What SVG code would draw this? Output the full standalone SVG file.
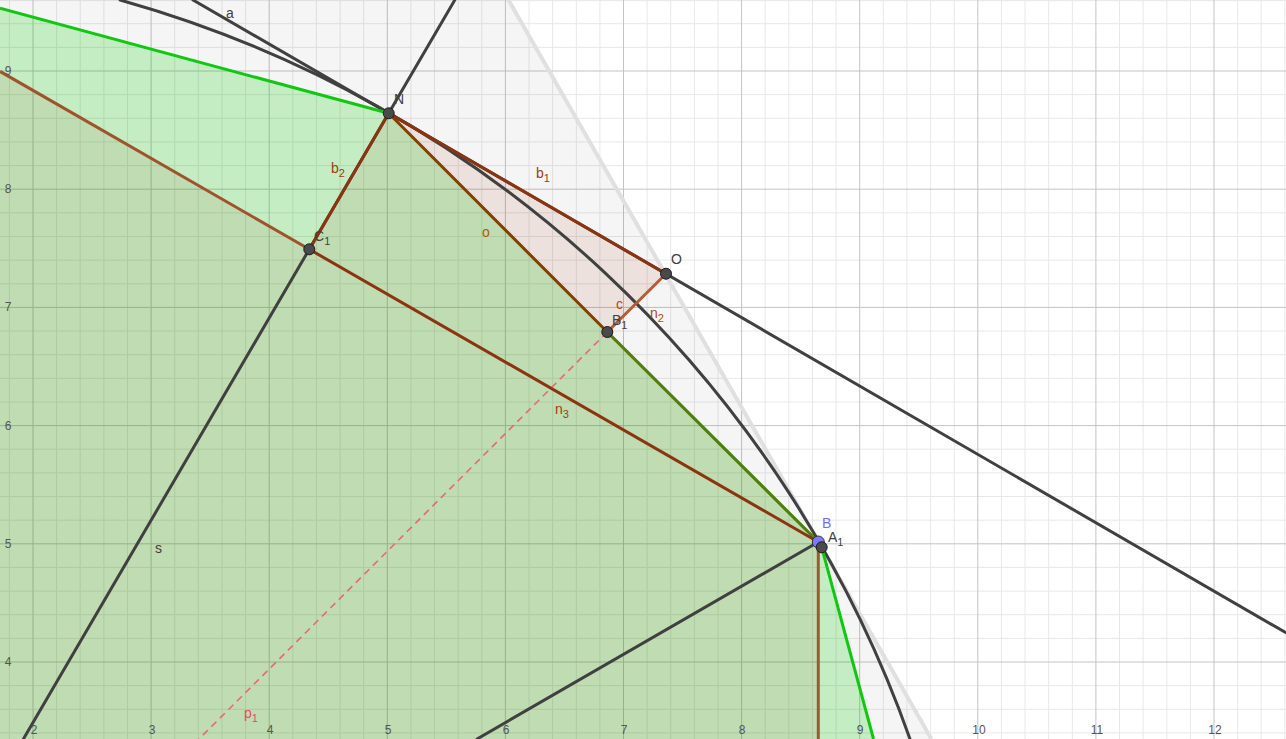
<svg xmlns="http://www.w3.org/2000/svg" width="1286" height="739" viewBox="0 0 1286 739">
<style>
.minor{stroke:#e8e8e8;stroke-width:1;fill:none}
.major{stroke:#c4c4c4;stroke-width:1;fill:none}
.ax{font-family:"Liberation Sans",Arial,sans-serif;font-size:12px;fill:#555555;text-anchor:middle}
.lbl{font-family:"Liberation Sans",Arial,sans-serif;font-size:14px}
.sub{font-size:11px}
.dark{stroke:#404040;stroke-width:3;fill:none;stroke-linecap:round}
.green{stroke:#10c810;stroke-width:3;fill:none}
.brown{stroke:#8c3410;stroke-width:3;fill:none}
.pt{fill:#4a4a4a;stroke:#1a1a1a;stroke-width:1}
</style>
<rect width="1286" height="739" fill="#ffffff"/>
<g id="grid">
<path class="minor" d="M9.4 0V739M56.6 0V739M80.2 0V739M103.9 0V739M127.5 0V739M174.7 0V739M198.3 0V739M222 0V739M245.6 0V739M292.8 0V739M316.4 0V739M340.1 0V739M363.7 0V739M410.9 0V739M434.5 0V739M458.2 0V739M481.8 0V739M529 0V739M552.6 0V739M576.3 0V739M599.9 0V739M647.1 0V739M670.7 0V739M694.4 0V739M718 0V739M765.2 0V739M788.8 0V739M812.5 0V739M836.1 0V739M883.3 0V739M906.9 0V739M930.6 0V739M954.2 0V739M1001.4 0V739M1025 0V739M1048.7 0V739M1072.3 0V739M1119.5 0V739M1143.1 0V739M1166.8 0V739M1190.4 0V739M1237.6 0V739M1261.2 0V739M1284.9 0V739
M0 0.6H1286M0 23.7H1286M0 47.4H1286M0 94.6H1286M0 118.3H1286M0 141.9H1286M0 165.6H1286M0 212.8H1286M0 236.5H1286M0 260.1H1286M0 283.8H1286M0 331H1286M0 354.7H1286M0 378.3H1286M0 402H1286M0 449.2H1286M0 472.9H1286M0 496.5H1286M0 520.2H1286M0 567.4H1286M0 591.1H1286M0 614.7H1286M0 638.4H1286M0 685.6H1286M0 709.3H1286M0 732.9H1286"/>
<path class="major" d="M33 0V739M151.1 0V739M269.2 0V739M387.3 0V739M505.4 0V739M623.5 0V739M741.6 0V739M859.7 0V739M977.8 0V739M1095.9 0V739M1214 0V739M0 71H1286M0 189.2H1286M0 307.4H1286M0 425.6H1286M0 543.8H1286M0 662H1286"/>
</g>
<g id="regions">
<polygon points="0,0 508.5,0 931.4,739 0,739" fill="#000000" fill-opacity="0.04"/>
<polygon points="0,8.3 388.7,113.3 821.7,547.3 873.5,739 0,739" fill="#00cc00" fill-opacity="0.2"/>
<polygon points="0,71.4 309.3,249.3 388.7,113.3 607.3,332 818.3,542 818.3,739 0,739" fill="#993300" fill-opacity="0.09"/>
<polygon points="388.7,113.3 666,273.7 607.3,332" fill="#993300" fill-opacity="0.1"/>
</g>
<g id="connectors">
<line x1="508.5" y1="0" x2="931.4" y2="739" stroke="#e0e0e0" stroke-width="4"/>
<path class="dark" d="M120.1 0A1173.5 1173.5 0 0 1 910 739"/>
<line class="dark" x1="193" y1="0" x2="1286" y2="632.8"/>
<line class="dark" x1="454.8" y1="0" x2="23.4" y2="739"/>
<line class="dark" x1="818.3" y1="542" x2="477" y2="739"/>
<line class="green" x1="0" y1="8.3" x2="388.7" y2="113.3"/>
<line class="green" x1="821.7" y1="547.3" x2="873.5" y2="739"/>
<line class="green" x1="607.3" y1="332" x2="818.3" y2="542"/>
<line x1="607.3" y1="332" x2="818.3" y2="542" stroke="#8b4513" stroke-opacity="0.6" stroke-width="3"/>
<line x1="607.3" y1="332" x2="199" y2="739" stroke="#e8677a" stroke-width="1.6" stroke-dasharray="7,5"/>
<line x1="0" y1="71.4" x2="309.3" y2="249.3" stroke="#a0522d" stroke-width="3"/>
<line class="brown" x1="309.3" y1="249.3" x2="818.3" y2="542"/>
<line x1="818.3" y1="542" x2="818.3" y2="739" stroke="#a0582d" stroke-width="3"/>
<line class="brown" x1="388.7" y1="113.3" x2="309.3" y2="249.3"/>
<line class="brown" x1="388.7" y1="113.3" x2="666" y2="273.7"/>
<line x1="388.7" y1="113.3" x2="607.3" y2="332" stroke="#804000" stroke-width="3"/>
<line x1="666" y1="273.7" x2="607.3" y2="332" stroke="#b85a36" stroke-width="3"/>
</g>
<g id="axis-labels">
<text class="ax" x="34" y="734">2</text>
<text class="ax" x="152" y="734">3</text>
<text class="ax" x="270" y="734">4</text>
<text class="ax" x="388" y="734">5</text>
<text class="ax" x="506" y="734">6</text>
<text class="ax" x="624" y="734">7</text>
<text class="ax" x="742" y="734">8</text>
<text class="ax" x="860" y="734">9</text>
<text class="ax" x="979" y="734">10</text>
<text class="ax" x="1097" y="734">11</text>
<text class="ax" x="1215" y="734">12</text>
<text class="ax" x="8" y="75">9</text>
<text class="ax" x="8" y="193">8</text>
<text class="ax" x="8" y="311">7</text>
<text class="ax" x="8" y="430">6</text>
<text class="ax" x="8" y="548">5</text>
<text class="ax" x="8" y="666">4</text>
</g>
<g id="edge-labels">
<text class="lbl" x="226" y="18" fill="#404040">a</text>
<text class="lbl" x="155" y="553" fill="#404040">s</text>
<text class="lbl" x="331" y="173" fill="#a03c10">b<tspan class="sub" dy="4">2</tspan></text>
<text class="lbl" x="536" y="178" fill="#a03c10">b<tspan class="sub" dy="4">1</tspan></text>
<text class="lbl" x="482" y="237" fill="#b35900">o</text>
<text class="lbl" x="650" y="318" fill="#b0481c">n<tspan class="sub" dy="4">2</tspan></text>
<text class="lbl" x="555" y="414" fill="#a03c10">n<tspan class="sub" dy="4">3</tspan></text>
<text class="lbl" x="244" y="718" fill="#e84a66">p<tspan class="sub" dy="4">1</tspan></text>
<text class="lbl" x="616" y="309" fill="#b0481c" font-size="10">c</text>
</g>
<g id="node-N">
<circle class="pt" cx="388.7" cy="113.3" r="5.5"/>
<text class="lbl" x="394" y="104" fill="#404040">N</text>
</g>
<g id="node-C1">
<circle class="pt" cx="309.3" cy="249.3" r="5.5"/>
<text class="lbl" x="314" y="241" fill="#404040">C<tspan class="sub" dy="4">1</tspan></text>
</g>
<g id="node-O">
<circle class="pt" cx="666" cy="273.7" r="5.5"/>
<text class="lbl" x="671" y="264" fill="#404040">O</text>
</g>
<g id="node-B1">
<circle class="pt" cx="607.3" cy="332" r="5.5"/>
<text class="lbl" x="612" y="325" fill="#404040">B<tspan class="sub" dy="4">1</tspan></text>
</g>
<g id="node-B">
<circle cx="818.3" cy="542" r="6" fill="#7a7aff" stroke="#333333" stroke-width="1"/>
<text class="lbl" x="822" y="528" fill="#6f6fff">B</text>
</g>
<g id="node-A1">
<circle class="pt" cx="821.7" cy="547.3" r="5.5"/>
<text class="lbl" x="828" y="542" fill="#404040">A<tspan class="sub" dy="4">1</tspan></text>
</g>
</svg>
